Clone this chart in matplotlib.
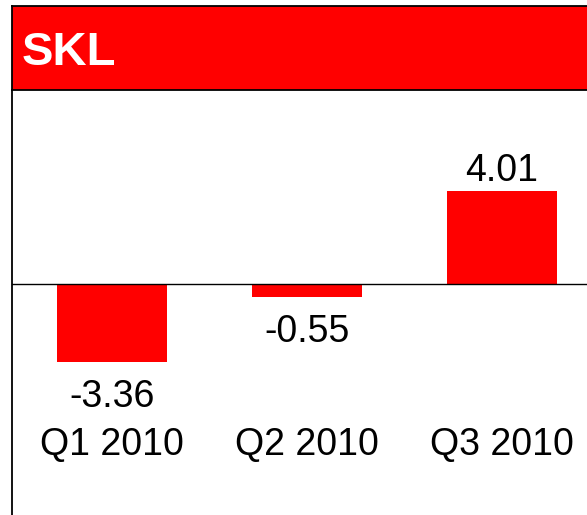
import matplotlib
matplotlib.use("Agg")
import matplotlib.pyplot as plt
import matplotlib.transforms as mtransforms

plt.rcParams['font.family'] = ['Liberation Sans', 'DejaVu Sans']

title = "SKL"
quarters = ["Q1 2010", "Q2 2010", "Q3 2010"]
values = [-3.36, -0.55, 4.01]

W, H = 587, 515
fig = plt.figure(figsize=(W / 100, H / 100), dpi=100)

# main area, left border only
ax = fig.add_axes([12 / W, 0, 575 / W, 425 / H])
ax.bar(range(len(values)), values, width=0.564, color='#ff0000')
ax.axhline(0, color='black', lw=1)
ax.set_xlim(-0.513, 2.436)
ax.set_ylim(-9.96, 8.36)
ax.set_xticks([])
ax.set_yticks([])
for s in ['top', 'right', 'bottom']:
    ax.spines[s].set_visible(False)
ax.spines['left'].set_linewidth(1.3)

for i, v in enumerate(values):
    off = 10 if v > 0 else -45
    ax.annotate(f"{v:.2f}", (i, v), xytext=(0, off), textcoords='offset pixels',
                ha='center', va='baseline', fontsize=27)

trans = mtransforms.blended_transform_factory(ax.transData, ax.transAxes)
for i, q in enumerate(quarters):
    ax.text(i, 60 / 425, q, transform=trans, ha='center', va='baseline', fontsize=27)

# red header band
hd = fig.add_axes([12 / W, 425 / H, 575 / W, 84 / H])
hd.set_facecolor('#ff0000')
hd.set_xticks([])
hd.set_yticks([])
hd.spines['right'].set_visible(False)
for s in ['top', 'left', 'bottom']:
    hd.spines[s].set_linewidth(1.3)
hd.text(10 / 575, 25 / 84, title, transform=hd.transAxes, ha='left', va='baseline',
        fontsize=34, fontweight='bold', color='white')

fig.savefig("out.png", dpi=100)
